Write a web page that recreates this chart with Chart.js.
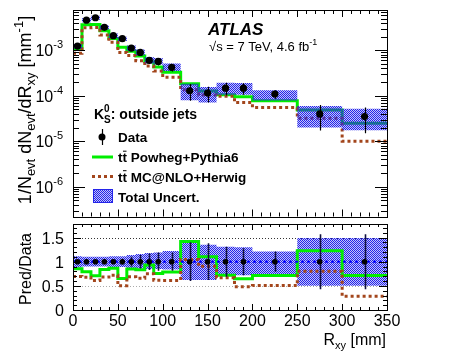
<!DOCTYPE html>
<html><head><meta charset="utf-8">
<script src="https://cdn.jsdelivr.net/npm/chart.js@4"></script>
<style>
html,body{margin:0;padding:0;background:#fff;width:456px;height:354px;overflow:hidden}
canvas{position:absolute;left:0;top:0}
</style></head>
<body>
<canvas id="topc" width="456" height="354"></canvas>
<canvas id="ratc" width="456" height="354"></canvas>
<script>
// ---- values ----
const binEdges = [0,10,20,30,40,50,60,70,80,90,100,120,140,160,180,200,250,300,350];
const dataVals = [1.24e-3,4.6e-3,5.2e-3,3.2e-3,2.1e-3,1.8e-3,1.12e-3,9.0e-4,6.0e-4,5.7e-4,4.2e-4,1.29e-4,1.15e-4,1.47e-4,1.47e-4,1.09e-4,4.0e-5,3.5e-5];
const dataRelErr = [0.03,0.03,0.03,0.04,0.05,0.06,0.10,0.14,0.17,0.19,0.19,0.40,0.38,0.31,0.28,0.21,0.57,0.57];
const powhegVals = [1.06e-3,3.65e-3,3.68e-3,2.68e-3,1.82e-3,1.17e-3,9.5e-4,7.5e-4,5.6e-4,4.3e-4,3.3e-4,1.83e-4,1.27e-4,1.06e-4,9.5e-5,7.8e-5,4.9e-5,2.5e-5];
const herwigVals = [8.6e-4,3.13e-3,3.17e-3,2.18e-3,1.51e-3,9.0e-4,7.7e-4,5.9e-4,4.5e-4,3.5e-4,2.56e-4,1.35e-4,1.04e-4,9.8e-5,7.1e-5,5.5e-5,3.2e-5,1.0e-5];
const uncLow  = [0.88,0.90,0.90,0.90,0.89,0.89,0.87,0.86,0.85,0.85,0.84,0.62,0.62,0.72,0.72,0.72,0.50,0.50];
const uncHigh = [1.11,1.10,1.10,1.10,1.11,1.11,1.14,1.16,1.18,1.19,1.22,1.42,1.35,1.31,1.30,1.21,1.49,1.49];
const xTickLabels = ['0','50','100','150','200','250','300','350'];
const yDecadeLabels = [-3,-4,-5,-6];
const ratioTickLabels = ['0','0.5','1','1.5'];

const FONT = '"Liberation Sans", Arial, Helvetica, sans-serif';
function F(s,w,i){ return `${i||'normal'} ${w||'normal'} ${s}px ${FONT}`; }
function richWidth(ctx, parts){
  let w=0; for(const p of parts){ ctx.font=F(p.s,p.w,p.i); if(!p.na) w+=ctx.measureText(p.t).width; } return w;
}
function rich(ctx, x, y, parts, align){
  const w = richWidth(ctx, parts);
  let cx = align==='right' ? x-w : align==='center' ? x-w/2 : x;
  ctx.textBaseline='alphabetic'; ctx.textAlign='left';
  for(const p of parts){
    ctx.font=F(p.s,p.w,p.i);
    ctx.fillText(p.t, cx, y+(p.dy||0));
    const tw = ctx.measureText(p.t).width;
    if(p.ol){ ctx.save(); ctx.strokeStyle=ctx.fillStyle; ctx.lineWidth=1; ctx.beginPath(); ctx.moveTo(cx+0.5, y-p.s*0.8); ctx.lineTo(cx+tw-0.5, y-p.s*0.8); ctx.stroke(); ctx.restore(); }
    if(!p.na) cx += tw;
  }
}
function hatch(ctx){
  const c=document.createElement('canvas'); c.width=4; c.height=4;
  const g=c.getContext('2d');
  for(let x=0;x<4;x++)for(let y=0;y<4;y++){
    if((x+y)%2===0){ g.fillStyle='#2424ea'; g.fillRect(x,y,1,1); }
    else { g.fillStyle='rgba(40,40,235,0.28)'; g.fillRect(x,y,1,1); }
  }
  return ctx.createPattern(c,'repeat');
}
function steps(vals){
  const pts = vals.map((v,i)=>({x:binEdges[i], y:v}));
  pts.push({x:binEdges[binEdges.length-1], y:vals[vals.length-1]});
  return pts;
}
const centers = dataVals.map((v,i)=>(binEdges[i]+binEdges[i+1])/2);

function drawFrameTicks(chart, cfg){
  const {ctx, chartArea:a, scales} = chart;
  const xs=scales.x, ys=scales.y;
  ctx.save(); ctx.strokeStyle='#000'; ctx.lineWidth=1; ctx.beginPath();
  for(let v=0; v<=350; v+=10){
    const px=Math.round(xs.getPixelForValue(v))+0.5;
    const L = v%50===0 ? cfg.xMajor : cfg.xMinor;
    ctx.moveTo(px,a.bottom); ctx.lineTo(px,a.bottom-L);
    ctx.moveTo(px,a.top); ctx.lineTo(px,a.top+L);
  }
  for(const [v,major] of cfg.yTicks){
    const py=Math.round(ys.getPixelForValue(v))+0.5;
    if(py<a.top-0.1||py>a.bottom+0.6) continue;
    const L = major ? cfg.yMajor : cfg.yMinor;
    ctx.moveTo(a.left,py); ctx.lineTo(a.left+L,py);
    ctx.moveTo(a.right,py); ctx.lineTo(a.right-L,py);
  }
  ctx.stroke();
  ctx.strokeRect(Math.round(a.left)+0.5, Math.round(a.top)+0.5, Math.round(a.right)-Math.round(a.left), Math.round(a.bottom)-Math.round(a.top));
  ctx.restore();
}
function errBars(chart, lo, hi, color, width){
  const {ctx, scales} = chart;
  ctx.save(); ctx.strokeStyle=color; ctx.lineWidth=width; ctx.beginPath();
  centers.forEach((c,i)=>{
    const px=Math.round(scales.x.getPixelForValue(c))+0.5;
    ctx.moveTo(px, scales.y.getPixelForValue(lo[i])); ctx.lineTo(px, scales.y.getPixelForValue(hi[i]));
  });
  ctx.stroke(); ctx.restore();
}

// ---------------- top panel ----------------
const tctx = document.getElementById('topc').getContext('2d');
const patTop = hatch(tctx);
const logTicks=[];
for(let d=-7; d<=-2; d++) for(let k=1;k<=9;k++) logTicks.push([k*Math.pow(10,d), k===1]);

const topPlugin = {
  id:'topdeco',
  beforeDatasetDraw(chart, args){
    if(args.index===0){
      errBars(chart, dataVals.map((v,i)=>v*(1-dataRelErr[i])), dataVals.map((v,i)=>v*(1+dataRelErr[i])), '#000', 1.2);
    }
  },
  afterDraw(chart){
    const ctx=chart.ctx, s=chart.scales;
    drawFrameTicks(chart,{xMajor:7,xMinor:4,yMajor:12,yMinor:6,yTicks:logTicks});
    ctx.save(); ctx.fillStyle='#000';
    for(const d of yDecadeLabels){
      const py=s.y.getPixelForValue(Math.pow(10,d));
      rich(ctx, 63, py+6, [{t:'10',s:16},{t:'-'+(-d),s:11,dy:-8}], 'right');
    }
    ctx.save(); ctx.translate(31, 110); ctx.rotate(-Math.PI/2);
    rich(ctx,0,0,[{t:'1/N',s:18},{t:'evt',s:13,dy:4},{t:' dN',s:18},{t:'evt',s:13,dy:4},{t:'/dR',s:18},{t:'xy',s:13,dy:4},{t:' [mm',s:18},{t:'-1',s:13,dy:-8},{t:']',s:18}],'center');
    ctx.restore();
    rich(ctx, 208, 35, [{t:'ATLAS',s:17,w:'bold',i:'italic'}]);
    rich(ctx, 209, 51, [{t:'\u221As = 7 TeV, 4.6 fb',s:13},{t:'-1',s:9,dy:-6}]);
    rich(ctx, 94, 119, [{t:'K',s:14,w:'bold'},{t:'0',s:10,w:'bold',dy:-7,na:true},{t:'S',s:10,w:'bold',dy:4},{t:': outside jets',s:14,w:'bold'}]);
    const lx=118;
    ctx.beginPath(); ctx.arc(102,137,3.5,0,Math.PI*2); ctx.fill();
    ctx.strokeStyle='#000'; ctx.lineWidth=1.2; ctx.beginPath(); ctx.moveTo(102.5,129); ctx.lineTo(102.5,145); ctx.stroke();
    rich(ctx, lx, 142, [{t:'Data',s:13.5,w:'bold'}]);
    ctx.strokeStyle='#00ee00'; ctx.lineWidth=3; ctx.beginPath(); ctx.moveTo(92,157); ctx.lineTo(113,157); ctx.stroke();
    rich(ctx, lx, 162, [{t:'t',s:13.5,w:'bold'},{t:'t',s:13.5,w:'bold',ol:true},{t:' Powheg+Pythia6',s:13.5,w:'bold'}]);
    ctx.strokeStyle='#a3461c'; ctx.setLineDash([3,3]); ctx.beginPath(); ctx.moveTo(92,176.5); ctx.lineTo(113,176.5); ctx.stroke(); ctx.setLineDash([]);
    rich(ctx, lx, 181.5, [{t:'t',s:13.5,w:'bold'},{t:'t',s:13.5,w:'bold',ol:true},{t:' MC@NLO+Herwig',s:13.5,w:'bold'}]);
    ctx.fillStyle=patTop; ctx.fillRect(93,189,20,14);
    ctx.strokeStyle='#2424ea'; ctx.lineWidth=1; ctx.strokeRect(93.5,189.5,19,13);
    ctx.fillStyle='#000';
    rich(ctx, lx, 201.5, [{t:'Total Uncert.',s:13.5,w:'bold'}]);
    ctx.restore();
  }
};

new Chart(tctx, {
  type:'line',
  data:{datasets:[
    {label:'Data', data:dataVals.map((v,i)=>({x:centers[i],y:v})), showLine:false, pointRadius:3.6, pointBackgroundColor:'#000', pointBorderWidth:0, order:0},
    {label:'uncHi', data:steps(dataVals.map((v,i)=>v*uncHigh[i])), stepped:true, borderWidth:0, borderColor:'rgba(0,0,0,0)', pointRadius:0, fill:'+1', backgroundColor:patTop, order:1},
    {label:'uncLo', data:steps(dataVals.map((v,i)=>v*uncLow[i])), stepped:true, borderWidth:0, borderColor:'rgba(0,0,0,0)', pointRadius:0, fill:false, order:1},
    {label:'Herwig', data:steps(herwigVals), stepped:true, borderColor:'#a3461c', borderWidth:3, borderDash:[3,3], pointRadius:0, fill:false, order:2},
    {label:'Powheg', data:steps(powhegVals), stepped:true, borderColor:'#00ee00', borderWidth:3, pointRadius:0, fill:false, order:3}
  ]},
  options:{responsive:false, animation:false, devicePixelRatio:1, events:[],
    layout:{padding:{left:73,right:69,top:10,bottom:137.5}},
    plugins:{legend:{display:false}, tooltip:{enabled:false}},
    scales:{x:{type:'linear',min:0,max:350,display:false,bounds:'data'},
            y:{type:'logarithmic',min:2.22e-7,max:7.69e-3,display:false,bounds:'data'}}},
  plugins:[topPlugin]
});

// ---------------- ratio panel ----------------
const rctx = document.getElementById('ratc').getContext('2d');
const patRat = hatch(rctx);
const ratTicks=[];
for(let k=0;k<=17;k++) ratTicks.push([k/10, k%5===0]);
const powRatio = powhegVals.map((v,i)=>v/dataVals[i]);
const herRatio = herwigVals.map((v,i)=>v/dataVals[i]);

const ratPlugin = {
  id:'ratdeco',
  beforeDatasetsDraw(chart){
    const {ctx, chartArea:a, scales:s} = chart;
    ctx.save(); ctx.lineWidth=1;
    let py=Math.round(s.y.getPixelForValue(1.5))+0.5;
    ctx.strokeStyle='#333'; ctx.setLineDash([1,2]); ctx.beginPath(); ctx.moveTo(a.left,py); ctx.lineTo(a.right,py); ctx.stroke();
    py=Math.round(s.y.getPixelForValue(0.5))+0.5;
    ctx.strokeStyle='#aaa'; ctx.beginPath(); ctx.moveTo(a.left,py); ctx.lineTo(a.right,py); ctx.stroke();
    ctx.restore();
  },
  beforeDatasetDraw(chart, args){
    if(args.index===0){
      errBars(chart, dataRelErr.map(e=>1-e), dataRelErr.map(e=>1+e), '#101040', 1.6);
    }
  },
  afterDraw(chart){
    const ctx=chart.ctx, s=chart.scales;
    drawFrameTicks(chart,{xMajor:6,xMinor:3,yMajor:8,yMinor:4,yTicks:ratTicks});
    ctx.save(); ctx.fillStyle='#000';
    ratioTickLabels.forEach(l=>{
      const py=s.y.getPixelForValue(parseFloat(l));
      rich(ctx, 64, py+6, [{t:l,s:16}], 'right');
    });
    xTickLabels.forEach(l=>{
      const px=s.x.getPixelForValue(parseFloat(l));
      rich(ctx, px, 326, [{t:l,s:16}], 'center');
    });
    rich(ctx, 386, 345, [{t:'R',s:16},{t:'xy',s:11,dy:4},{t:' [mm]',s:16}], 'right');
    ctx.save(); ctx.translate(31, 269); ctx.rotate(-Math.PI/2);
    rich(ctx,0,0,[{t:'Pred/Data',s:16}],'center');
    ctx.restore();
    ctx.restore();
  }
};

new Chart(rctx, {
  type:'line',
  data:{datasets:[
    {label:'Data', data:centers.map(c=>({x:c,y:1})), showLine:false, pointRadius:2.8, pointBackgroundColor:'#000', pointBorderWidth:0, order:0},
    {label:'one', data:[{x:0,y:1},{x:350,y:1}], borderColor:'#0000ff', borderWidth:2, borderDash:[3,3], pointRadius:0, fill:false, order:1},
    {label:'Herwig', data:steps(herRatio), stepped:true, borderColor:'#a3461c', borderWidth:3, borderDash:[3,3], pointRadius:0, fill:false, order:2},
    {label:'Powheg', data:steps(powRatio), stepped:true, borderColor:'#00ee00', borderWidth:3, pointRadius:0, fill:false, order:3},
    {label:'uncHi', data:steps(uncHigh), stepped:true, borderWidth:0, borderColor:'rgba(0,0,0,0)', pointRadius:0, fill:'+1', backgroundColor:patRat, order:4},
    {label:'uncLo', data:steps(uncLow), stepped:true, borderWidth:0, borderColor:'rgba(0,0,0,0)', pointRadius:0, fill:false, order:4}
  ]},
  options:{responsive:false, animation:false, devicePixelRatio:1, events:[],
    layout:{padding:{left:73,right:69,top:224,bottom:44}},
    plugins:{legend:{display:false}, tooltip:{enabled:false}},
    scales:{x:{type:'linear',min:0,max:350,display:false,bounds:'data'},
            y:{type:'linear',min:0,max:1.78,display:false,bounds:'data'}}},
  plugins:[ratPlugin]
});
</script>
</body></html>
